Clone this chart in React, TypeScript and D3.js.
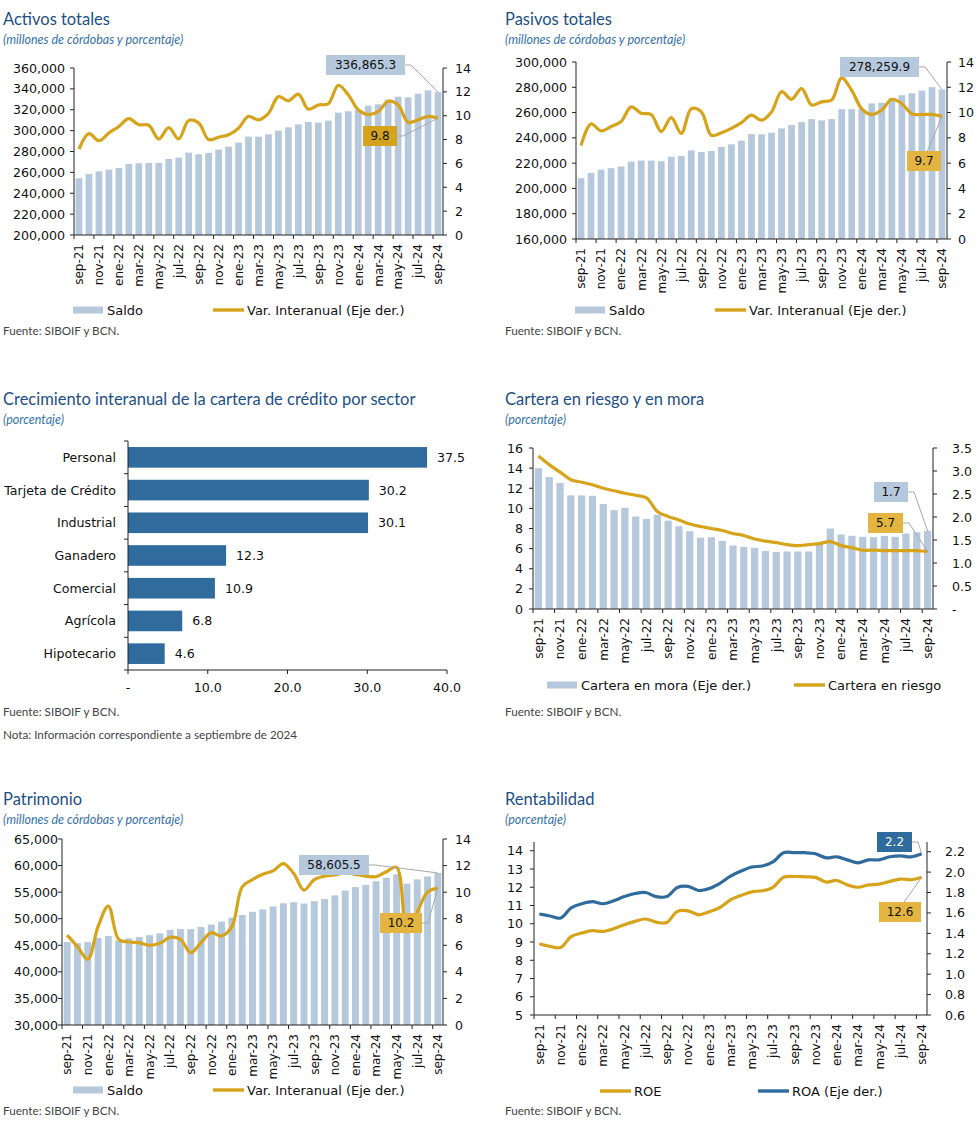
import React from "react";
import * as d3 from "d3";

// categorías mensuales (sep-21 a sep-24)
const months = [
	"sep-21", "oct-21", "nov-21", "dic-21",
	"ene-22", "feb-22", "mar-22", "abr-22", "may-22", "jun-22", "jul-22", "ago-22", "sep-22", "oct-22", "nov-22", "dic-22",
	"ene-23", "feb-23", "mar-23", "abr-23", "may-23", "jun-23", "jul-23", "ago-23", "sep-23", "oct-23", "nov-23", "dic-23",
	"ene-24", "feb-24", "mar-24", "abr-24", "may-24", "jun-24", "jul-24", "ago-24", "sep-24",
];

const activosSaldo = [
	254300, 258400, 261000, 262600, 264200, 268000, 268700, 269000, 269000, 272800, 274100, 278900, 277300, 278600,
	281800, 284600, 288500, 294200, 294200, 296500, 300000, 303200, 306000, 308300, 307600, 309600, 317200, 318500,
	320100, 323900, 325200, 329700, 332500, 331900, 335400, 338600, 336865.3,
];
const activosVar = [
	7.2, 8.5, 7.9, 8.55, 9.1, 9.75, 9.25, 9.2, 8.05, 9.0, 8.05, 9.6, 9.4, 8.0, 8.2, 8.4, 8.95, 9.95, 9.65, 10.2, 11.6,
	11.25, 11.8, 10.55, 10.9, 11.0, 12.55, 11.75, 10.5, 10.1, 10.35, 11.2, 10.9, 9.45, 9.65, 9.95, 9.8,
];

const pasivosSaldo = [
	208100, 212300, 214900, 216000, 217300, 221200, 222000, 222000, 221500, 225100, 225700, 230100, 228800, 229600,
	232800, 234900, 237800, 243000, 242800, 244100, 247500, 250100, 252500, 254800, 253800, 254800, 262700, 262700,
	263000, 267200, 267700, 271400, 273700, 275300, 277400, 280100, 278259.9,
];
const pasivosVar = [
	7.4, 9.1, 8.55, 8.9, 9.3, 10.45, 9.95, 9.85, 8.5, 9.6, 8.35, 10.3, 10.05, 8.2, 8.4, 8.75, 9.2, 9.8, 9.4, 10.05,
	11.65, 11.05, 11.9, 10.6, 10.85, 11.0, 12.75, 11.75, 10.3, 9.85, 10.2, 11.05, 10.7, 9.9, 9.85, 9.85, 9.7,
];

const sectores = ["Personal", "Tarjeta de Crédito", "Industrial", "Ganadero", "Comercial", "Agrícola", "Hipotecario"];
const crecimientoSector = [37.5, 30.2, 30.1, 12.3, 10.9, 6.8, 4.6];

const carteraMora = [
	3.06, 2.87, 2.74, 2.47, 2.47, 2.46, 2.28, 2.15, 2.2, 2.01, 1.96, 2.05, 1.92, 1.8, 1.69, 1.55, 1.56, 1.48, 1.38, 1.35,
	1.33, 1.26, 1.24, 1.25, 1.25, 1.25, 1.41, 1.75, 1.62, 1.59, 1.57, 1.56, 1.59, 1.57, 1.64, 1.67, 1.7,
];
const carteraRiesgo = [
	15.2, 14.35, 13.6, 12.85, 12.6, 12.35, 12.0, 11.75, 11.5, 11.3, 11.05, 9.7, 9.2, 8.85, 8.45, 8.2, 8.0, 7.8, 7.5, 7.3,
	6.95, 6.75, 6.6, 6.4, 6.3, 6.4, 6.5, 6.7, 6.3, 6.1, 5.85, 5.85, 5.8, 5.8, 5.8, 5.8, 5.7,
];

const patrimonioSaldo = [
	45600, 45400, 45600, 46400, 46750, 45900, 46300, 46550, 46900, 47250, 47900, 48050, 48050, 48450, 48900, 49450,
	50200, 50700, 51300, 51750, 52300, 52900, 53100, 52850, 53300, 53700, 54400, 55300, 55950, 56350, 57050, 57700,
	58350, 56600, 57400, 57950, 58605.5,
];
const patrimonioVar = [
	6.77, 5.9, 4.95, 7.4, 8.95, 6.45, 6.25, 6.2, 6.0, 6.15, 6.6, 6.45, 5.45, 6.2, 6.95, 6.7, 7.4, 10.4, 10.95, 11.35,
	11.6, 12.15, 11.4, 10.15, 10.95, 11.2, 11.3, 11.47, 11.34, 11.21, 11.16, 11.54, 11.87, 7.0, 8.5, 10.0, 10.3,
];

const roe = [
	8.9, 8.76, 8.7, 9.3, 9.49, 9.62, 9.58, 9.73, 9.95, 10.13, 10.26, 10.09, 10.07, 10.68, 10.71, 10.49, 10.66, 10.89,
	11.31, 11.55, 11.75, 11.81, 12.0, 12.55, 12.59, 12.57, 12.54, 12.28, 12.37, 12.13, 12.0, 12.13, 12.17, 12.32,
	12.45, 12.41, 12.55,
];
const roa = [
	1.59, 1.57, 1.55, 1.65, 1.69, 1.71, 1.69, 1.72, 1.76, 1.79, 1.8, 1.76, 1.76, 1.85, 1.86, 1.82, 1.84, 1.89, 1.96,
	2.01, 2.05, 2.06, 2.1, 2.19, 2.19, 2.19, 2.18, 2.14, 2.15, 2.12, 2.09, 2.12, 2.12, 2.15, 2.16, 2.15, 2.18,
];

const FONT_AX = "'DejaVu Sans', Verdana, sans-serif";
const FONT_TT = "Lato, 'Noto Sans', sans-serif";
const TITLE = "#1d4f86";
const SUB = "#3572aa";
const BAR = "#b5c8dc";
const GOLD = "#d6a31a";
const GOLD_BOX = "#e3b43f";
const BLUE = "#2f6b9c";
const LEADER = "#a8a8a8";
const AX = "#222";

function Header({ x, y, title, subtitle }) {
	return (
		<g>
			<text x={x} y={y} fontFamily={FONT_TT} fontSize={16.5} fill={TITLE}>
				{title}
			</text>
			<text x={x} y={y + 19} fontFamily={FONT_TT} fontSize={12.5} fontStyle="italic" fill={SUB}>
				{subtitle}
			</text>
		</g>
	);
}

function Note({ x, y, text }) {
	return (
		<text x={x} y={y} fontFamily={FONT_TT} fontSize={11.7} fill="#444">
			{text}
		</text>
	);
}

function ComboChart(p) {
	const x = d3.scaleBand().domain(months).range([p.left, p.right]).paddingInner(0.33).paddingOuter(0.165);
	const yL = d3.scaleLinear().domain(p.leftDomain).range([p.bottom, p.top]);
	const yR = d3.scaleLinear().domain(p.rightDomain).range([p.bottom, p.top]);
	const scaleOf = (axis) => (axis === "left" ? yL : yR);
	const cx = (i) => x(months[i]) + x.bandwidth() / 2;
	const last = months.length - 1;

	const target = (a) => {
		if (a.kind === "bar") {
			const s = scaleOf(p.bars.axis);
			return [cx(last), s(p.bars.data[last])];
		}
		const l = p.lines[a.line];
		return [cx(last), scaleOf(l.axis)(l.data[last])];
	};

	return (
		<g>
			{p.bars && (
				<g fill={BAR}>
					{p.bars.data.map((v, i) => {
						const s = scaleOf(p.bars.axis);
						return (
							<rect key={i} x={x(months[i])} y={s(v)} width={x.bandwidth()} height={p.bottom - s(v)} />
						);
					})}
				</g>
			)}
			{p.lines.map((l, k) => {
				const s = scaleOf(l.axis);
				const gen = d3
					.line()
					.x((_, i) => cx(i))
					.y((d) => s(d))
					.curve(d3.curveCatmullRom.alpha(0.5));
				return <path key={k} d={gen(l.data)} fill="none" stroke={l.color} strokeWidth={3.2} strokeLinejoin="round" />;
			})}

			{/* ejes */}
			<g stroke={AX} strokeWidth={1} fill="none">
				<line x1={p.left} x2={p.left} y1={p.top} y2={p.bottom} />
				<line x1={p.right} x2={p.right} y1={p.top} y2={p.bottom} />
				<line x1={p.left} x2={p.right} y1={p.bottom} y2={p.bottom} />
				{p.leftTicks.map((t) => (
					<line key={"l" + t} x1={p.left - 4} x2={p.left} y1={yL(t)} y2={yL(t)} />
				))}
				{p.rightTicks.map((t) => (
					<line key={"r" + t} x1={p.right} x2={p.right + 4} y1={yR(t)} y2={yR(t)} />
				))}
				{months.map((m, i) =>
					i % 2 === 0 ? (
						<line key={m} x1={p.left + x.step() * i} x2={p.left + x.step() * i} y1={p.bottom} y2={p.bottom + 4} />
					) : null,
				)}
			</g>
			<g fontFamily={FONT_AX} fontSize={12.6} fill="#111">
				{p.leftTicks.map((t) => (
					<text key={"lt" + t} x={p.left - p.leftGap} y={yL(t)} dy="0.36em" textAnchor="end">
						{p.leftFmt(t)}
					</text>
				))}
				{p.rightTicks.map((t) => (
					<text key={"rt" + t} x={p.right + p.rightGap} y={yR(t)} dy="0.36em" textAnchor="start">
						{p.rightFmt(t)}
					</text>
				))}
				{months.map((m, i) =>
					i % 2 === 0 ? (
						<text
							key={"x" + m}
							transform={`translate(${cx(i)},${p.bottom + 9}) rotate(-90)`}
							textAnchor="end"
							dy="0.36em"
							fontSize={12}
						>
							{m}
						</text>
					) : null,
				)}
			</g>

			{/* etiquetas del último dato */}
			{p.annotations.map((a, k) => {
				const [tx, ty] = target(a);
				const h = 20;
				const d =
					a.from === "right"
						? `M${a.bx + a.w},${a.by + h / 2}h6L${tx},${ty}`
						: `M${a.bx + a.w * 0.6},${a.by}L${tx},${ty}`;
				return (
					<g key={k}>
						<path d={d} fill="none" stroke={LEADER} strokeWidth={1} />
						<rect x={a.bx} y={a.by} width={a.w} height={h} fill={a.fill} />
						<text
							x={a.bx + a.w / 2}
							y={a.by + h / 2}
							dy="0.36em"
							textAnchor="middle"
							fontFamily={FONT_AX}
							fontSize={12}
							fill={a.color}
						>
							{a.text}
						</text>
					</g>
				);
			})}

			{/* leyenda */}
			<g fontFamily={FONT_AX} fontSize={13} fill="#111">
				{p.legend.map((it, k) => (
					<g key={k}>
						{it.type === "bar" ? (
							<rect x={it.x} y={p.legendY - 3.5} width={30} height={7} fill={it.color} />
						) : (
							<line x1={it.x} x2={it.x + 31} y1={p.legendY} y2={p.legendY} stroke={it.color} strokeWidth={3.4} />
						)}
						<text x={it.x + 34} y={p.legendY} dy="0.36em">
							{it.label}
						</text>
					</g>
				))}
			</g>
		</g>
	);
}

function SectorChart() {
	const left = 128;
	const right = 447;
	const top = 441;
	const bottom = 670;
	const x = d3.scaleLinear().domain([0, 40]).range([left, right]);
	const y = d3.scaleBand().domain(sectores).range([top, bottom]).paddingInner(0.37).paddingOuter(0.185);
	const xTicks = [0, 10, 20, 30, 40];
	const bounds = d3.range(sectores.length + 1).map((i) => top + y.step() * i);
	return (
		<g>
			<g fill={BLUE}>
				{crecimientoSector.map((v, i) => (
					<rect key={i} x={x(0)} y={y(sectores[i])} width={x(v) - x(0)} height={y.bandwidth()} />
				))}
			</g>
			<g stroke={AX} fill="none">
				<line x1={left} x2={left} y1={top} y2={bottom} />
				<line x1={left} x2={right} y1={bottom} y2={bottom} />
				{bounds.map((b, i) => (
					<line key={i} x1={left - 4} x2={left} y1={b} y2={b} />
				))}
				{xTicks.map((t) => (
					<line key={t} x1={x(t)} x2={x(t)} y1={bottom} y2={bottom + 4} />
				))}
			</g>
			<g fontFamily={FONT_AX} fontSize={12.6} fill="#111">
				{sectores.map((s, i) => (
					<text key={s} x={left - 12} y={y(s) + y.bandwidth() / 2} dy="0.36em" textAnchor="end">
						{s}
					</text>
				))}
				{crecimientoSector.map((v, i) => (
					<text key={i} x={x(v) + 10} y={y(sectores[i]) + y.bandwidth() / 2} dy="0.36em">
						{v.toFixed(1)}
					</text>
				))}
				{xTicks.map((t) => (
					<text key={t} x={x(t)} y={bottom + 22} textAnchor="middle">
						{t === 0 ? "-" : t.toFixed(1)}
					</text>
				))}
			</g>
		</g>
	);
}

const intFmt = d3.format(",");
const plain = (v) => String(v);

export default function App() {
	return (
		<svg width={979} height={1145} style={{ position: "absolute", left: 0, top: 0, background: "#fff" }}>
			<rect width={979} height={1145} fill="#fff" />

			{/* Activos totales */}
			<Header x={3} y={25} title="Activos totales" subtitle="(millones de córdobas y porcentaje)" />
			<ComboChart
				left={74}
				right={443}
				top={68}
				bottom={235}
				leftDomain={[200000, 360000]}
				leftTicks={d3.range(200000, 360001, 20000)}
				leftFmt={intFmt}
				leftGap={9}
				rightDomain={[0, 14]}
				rightTicks={d3.range(0, 15, 2)}
				rightFmt={plain}
				rightGap={12}
				bars={{ data: activosSaldo, axis: "left" }}
				lines={[{ data: activosVar, axis: "right", color: GOLD }]}
				annotations={[
					{ text: "336,865.3", bx: 326, by: 55, w: 79, fill: BAR, color: "#111", kind: "bar", from: "right" },
					{ text: "9.8", bx: 363, by: 126, w: 34, fill: "#d4a21c", color: "#111", kind: "line", line: 0, from: "right" },
				]}
				legendY={310}
				legend={[
					{ type: "bar", x: 73, color: BAR, label: "Saldo" },
					{ type: "line", x: 213, color: GOLD, label: "Var. Interanual (Eje der.)" },
				]}
			/>
			<Note x={3} y={335} text="Fuente: SIBOIF y BCN." />

			{/* Pasivos totales */}
			<Header x={505} y={25} title="Pasivos totales" subtitle="(millones de córdobas y porcentaje)" />
			<ComboChart
				left={576}
				right={947}
				top={62}
				bottom={239}
				leftDomain={[160000, 300000]}
				leftTicks={d3.range(160000, 300001, 20000)}
				leftFmt={intFmt}
				leftGap={9}
				rightDomain={[0, 14]}
				rightTicks={d3.range(0, 15, 2)}
				rightFmt={plain}
				rightGap={11}
				bars={{ data: pasivosSaldo, axis: "left" }}
				lines={[{ data: pasivosVar, axis: "right", color: GOLD }]}
				annotations={[
					{ text: "278,259.9", bx: 840, by: 57, w: 79, fill: BAR, color: "#111", kind: "bar", from: "right" },
					{ text: "9.7", bx: 907, by: 151, w: 34, fill: GOLD_BOX, color: "#111", kind: "line", line: 0, from: "top" },
				]}
				legendY={310}
				legend={[
					{ type: "bar", x: 575, color: BAR, label: "Saldo" },
					{ type: "line", x: 715, color: GOLD, label: "Var. Interanual (Eje der.)" },
				]}
			/>
			<Note x={505} y={335} text="Fuente: SIBOIF y BCN." />

			{/* Crecimiento por sector */}
			<Header x={3} y={405} title="Crecimiento interanual de la cartera de crédito por sector" subtitle="(porcentaje)" />
			<SectorChart />
			<Note x={3} y={716} text="Fuente: SIBOIF y BCN." />
			<Note x={3} y={739} text="Nota: Información correspondiente a septiembre de 2024" />

			{/* Cartera en riesgo y en mora */}
			<Header x={505} y={405} title="Cartera en riesgo y en mora" subtitle="(porcentaje)" />
			<ComboChart
				left={533}
				right={933}
				top={448}
				bottom={609}
				leftDomain={[0, 16]}
				leftTicks={d3.range(0, 17, 2)}
				leftFmt={plain}
				leftGap={10}
				rightDomain={[0, 3.5]}
				rightTicks={d3.range(0, 3.51, 0.5)}
				rightFmt={(v) => (v === 0 ? "-" : v.toFixed(1))}
				rightGap={19}
				bars={{ data: carteraMora, axis: "right" }}
				lines={[{ data: carteraRiesgo, axis: "left", color: GOLD }]}
				annotations={[
					{ text: "1.7", bx: 874, by: 482, w: 34, fill: BAR, color: "#111", kind: "bar", from: "right" },
					{ text: "5.7", bx: 868, by: 513, w: 35, fill: GOLD_BOX, color: "#111", kind: "line", line: 0, from: "right" },
				]}
				legendY={685}
				legend={[
					{ type: "bar", x: 547, color: BAR, label: "Cartera en mora (Eje der.)" },
					{ type: "line", x: 794, color: GOLD, label: "Cartera en riesgo" },
				]}
			/>
			<Note x={505} y={716} text="Fuente: SIBOIF y BCN." />

			{/* Patrimonio */}
			<Header x={3} y={805} title="Patrimonio" subtitle="(millones de córdobas y porcentaje)" />
			<ComboChart
				left={62}
				right={443}
				top={839}
				bottom={1025}
				leftDomain={[30000, 65000]}
				leftTicks={d3.range(30000, 65001, 5000)}
				leftFmt={intFmt}
				leftGap={4}
				rightDomain={[0, 14]}
				rightTicks={d3.range(0, 15, 2)}
				rightFmt={plain}
				rightGap={12}
				bars={{ data: patrimonioSaldo, axis: "left" }}
				lines={[{ data: patrimonioVar, axis: "right", color: GOLD }]}
				annotations={[
					{ text: "58,605.5", bx: 299, by: 855, w: 70, fill: BAR, color: "#111", kind: "bar", from: "right" },
					{ text: "10.2", bx: 380, by: 913, w: 42, fill: GOLD_BOX, color: "#111", kind: "line", line: 0, from: "right" },
				]}
				legendY={1090}
				legend={[
					{ type: "bar", x: 73, color: BAR, label: "Saldo" },
					{ type: "line", x: 213, color: GOLD, label: "Var. Interanual (Eje der.)" },
				]}
			/>
			<Note x={3} y={1115} text="Fuente: SIBOIF y BCN." />

			{/* Rentabilidad */}
			<Header x={505} y={805} title="Rentabilidad" subtitle="(porcentaje)" />
			<ComboChart
				left={534}
				right={927}
				top={842}
				bottom={1015}
				leftDomain={[5, 14.48]}
				leftTicks={d3.range(5, 14.01, 1)}
				leftFmt={plain}
				leftGap={11}
				rightDomain={[0.6, 2.295]}
				rightTicks={d3.range(0, 9).map((i) => 0.6 + i * 0.2)}
				rightFmt={(v) => v.toFixed(1)}
				rightGap={18}
				lines={[
					{ data: roe, axis: "left", color: GOLD },
					{ data: roa, axis: "right", color: BLUE },
				]}
				annotations={[
					{ text: "2.2", bx: 877, by: 832, w: 35, fill: BLUE, color: "#fff", kind: "line", line: 1, from: "right" },
					{ text: "12.6", bx: 879, by: 902, w: 42, fill: GOLD_BOX, color: "#111", kind: "line", line: 0, from: "top" },
				]}
				legendY={1091}
				legend={[
					{ type: "line", x: 600, color: GOLD, label: "ROE" },
					{ type: "line", x: 758, color: BLUE, label: "ROA (Eje der.)" },
				]}
			/>
			<Note x={505} y={1115} text="Fuente: SIBOIF y BCN." />
		</svg>
	);
}
